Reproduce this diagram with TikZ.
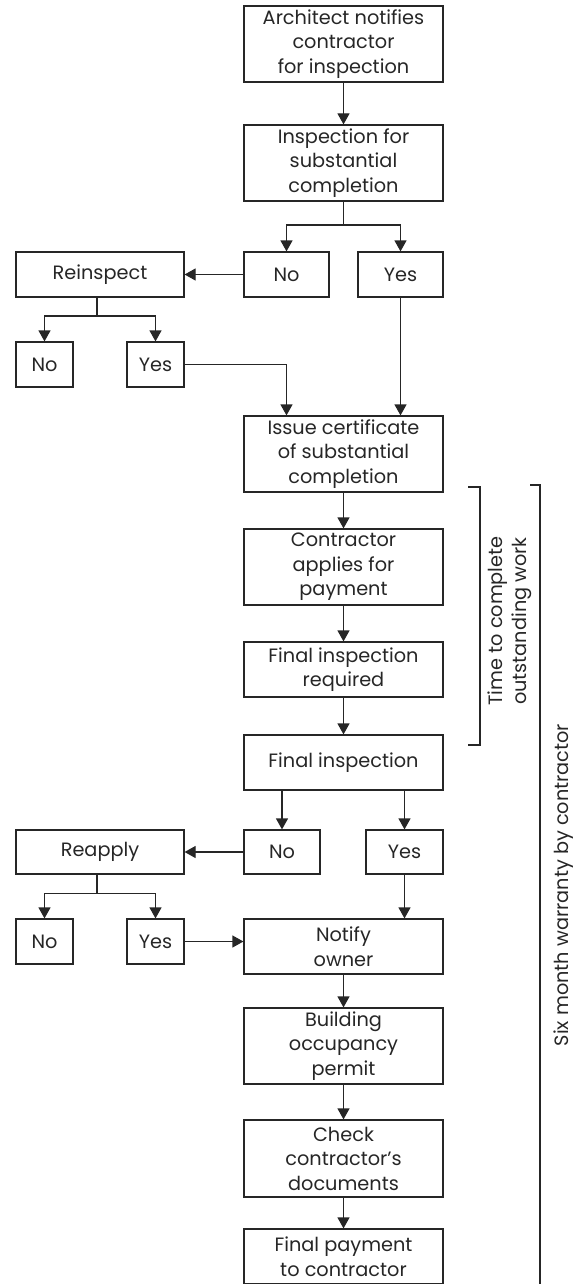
\documentclass[tikz,border=0pt]{standalone}
\usepackage{fontspec}
\setmainfont{Poppins}
\usetikzlibrary{arrows.meta}
\definecolor{ink}{HTML}{262626}
\begin{document}
\begin{tikzpicture}[x=1pt,y=1pt,
  every node/.style={font=\fontsize{19.3}{24.5}\selectfont, text=ink},
  mbox/.style={draw=ink, line width=1.2pt, inner sep=0pt, align=center,
               minimum width=199pt, minimum height=76pt},
  sbox/.style={draw=ink, line width=1.2pt, inner sep=0pt, align=center,
               minimum height=45pt},
  link/.style={draw=ink, line width=1.2pt},
  arr/.style={link, -{Triangle[length=11pt,width=12pt]}}]
\useasboundingbox (0,0) rectangle (578,-1284);

% main column
\node[mbox] (b1) at (343.5,-44) {Architect notifies\\contractor\\for inspection};
\node[mbox] (b2) at (343.5,-163) {Inspection for\\substantial\\completion};
\node[sbox, minimum width=85pt] (no1) at (286.5,-274.5) {No};
\node[sbox, minimum width=85pt] (yes1) at (400.5,-274.5) {Yes};
\node[sbox, minimum width=168pt] (rein) at (100,-274.5) {Reinspect};
\node[sbox, minimum width=57pt] (no1a) at (44.5,-364.5) {No};
\node[sbox, minimum width=57pt] (yes1a) at (155.5,-364.5) {Yes};
\node[mbox] (issue) at (343.5,-454) {Issue certificate\\of substantial\\completion};
\node[mbox] (contr) at (343.5,-567) {Contractor\\applies for\\payment};
\node[mbox, minimum height=55pt] (fir) at (343.5,-669.5) {Final inspection\\required};
\node[mbox, minimum height=55pt] (fi) at (343.5,-762.5) {Final inspection};
\node[sbox, minimum width=76pt, minimum height=44pt] (no2) at (282,-852) {No};
\node[sbox, minimum width=77pt, minimum height=44pt] (yes2) at (404.5,-852) {Yes};
\node[sbox, minimum width=168pt, minimum height=44pt] (reap) at (100,-852) {Reapply};
\node[sbox, minimum width=57pt] (no2a) at (44.5,-941.5) {No};
\node[sbox, minimum width=57pt] (yes2a) at (155.5,-941.5) {Yes};
\node[mbox, minimum height=55pt] (notify) at (343.5,-946.5) {Notify\\owner};
\node[mbox] (build) at (343.5,-1046) {Building\\occupancy\\permit};
\node[mbox, minimum height=77pt] (check) at (343.5,-1158.5) {Check\\contractor{\char"27}s\\documents};
\node[mbox, minimum height=55pt] (pay) at (343.5,-1256.5) {Final payment\\to contractor};

% junction points of the branches
\coordinate (j1) at (343.5,-225);
\coordinate (j2) at (97,-316);
\coordinate (j3) at (97,-893.5);

% connectors
\draw[arr] (b1) -- (b2);
\draw[link] (b2) -- (j1);
\draw[arr] (j1) -| (no1);
\draw[arr] (j1) -| (yes1);
\draw[arr] (no1) -- (rein);
\draw[link] (rein.south -| j2) -- (j2);
\draw[arr] (j2) -| (no1a);
\draw[arr] (j2) -| (yes1a);
\draw[arr] (yes1a.east) -| (issue.north -| no1);
\draw[arr] (yes1) -- (yes1 |- issue.north);
\draw[arr] (issue) -- (contr);
\draw[arr] (contr) -- (fir);
\draw[arr] (fir) -- (fi);
\draw[arr] (fi.south -| no2) -- (no2);
\draw[arr] (fi.south -| yes2) -- (yes2);
\draw[arr] (no2) -- (reap);
\draw[link] (reap.south -| j3) -- (j3);
\draw[arr] (j3) -| (no2a);
\draw[arr] (j3) -| (yes2a);
\draw[arr] (yes2a.east) -- (yes2a.east -| notify.west);
\draw[arr] (yes2) -- (yes2 |- notify.north);
\draw[arr] (notify) -- (build);
\draw[arr] (build) -- (check);
\draw[arr] (check) -- (pay);

% time brackets
\coordinate (t1) at (468,-487);
\coordinate (t2) at (468,-745);
\draw[link] (t1) -- ++(12,0) |- (t2);
\node[rotate=90, align=center] (tlab) at (510,-621) {Time to complete\\outstanding work};
\coordinate (w1) at (530,-485);
\draw[link] (w1) -- ++(10,0) -- ++(0,-820);
\node[rotate=90] (wlab) at (564,-885) {Six month warranty by contractor};
\end{tikzpicture}
\end{document}
